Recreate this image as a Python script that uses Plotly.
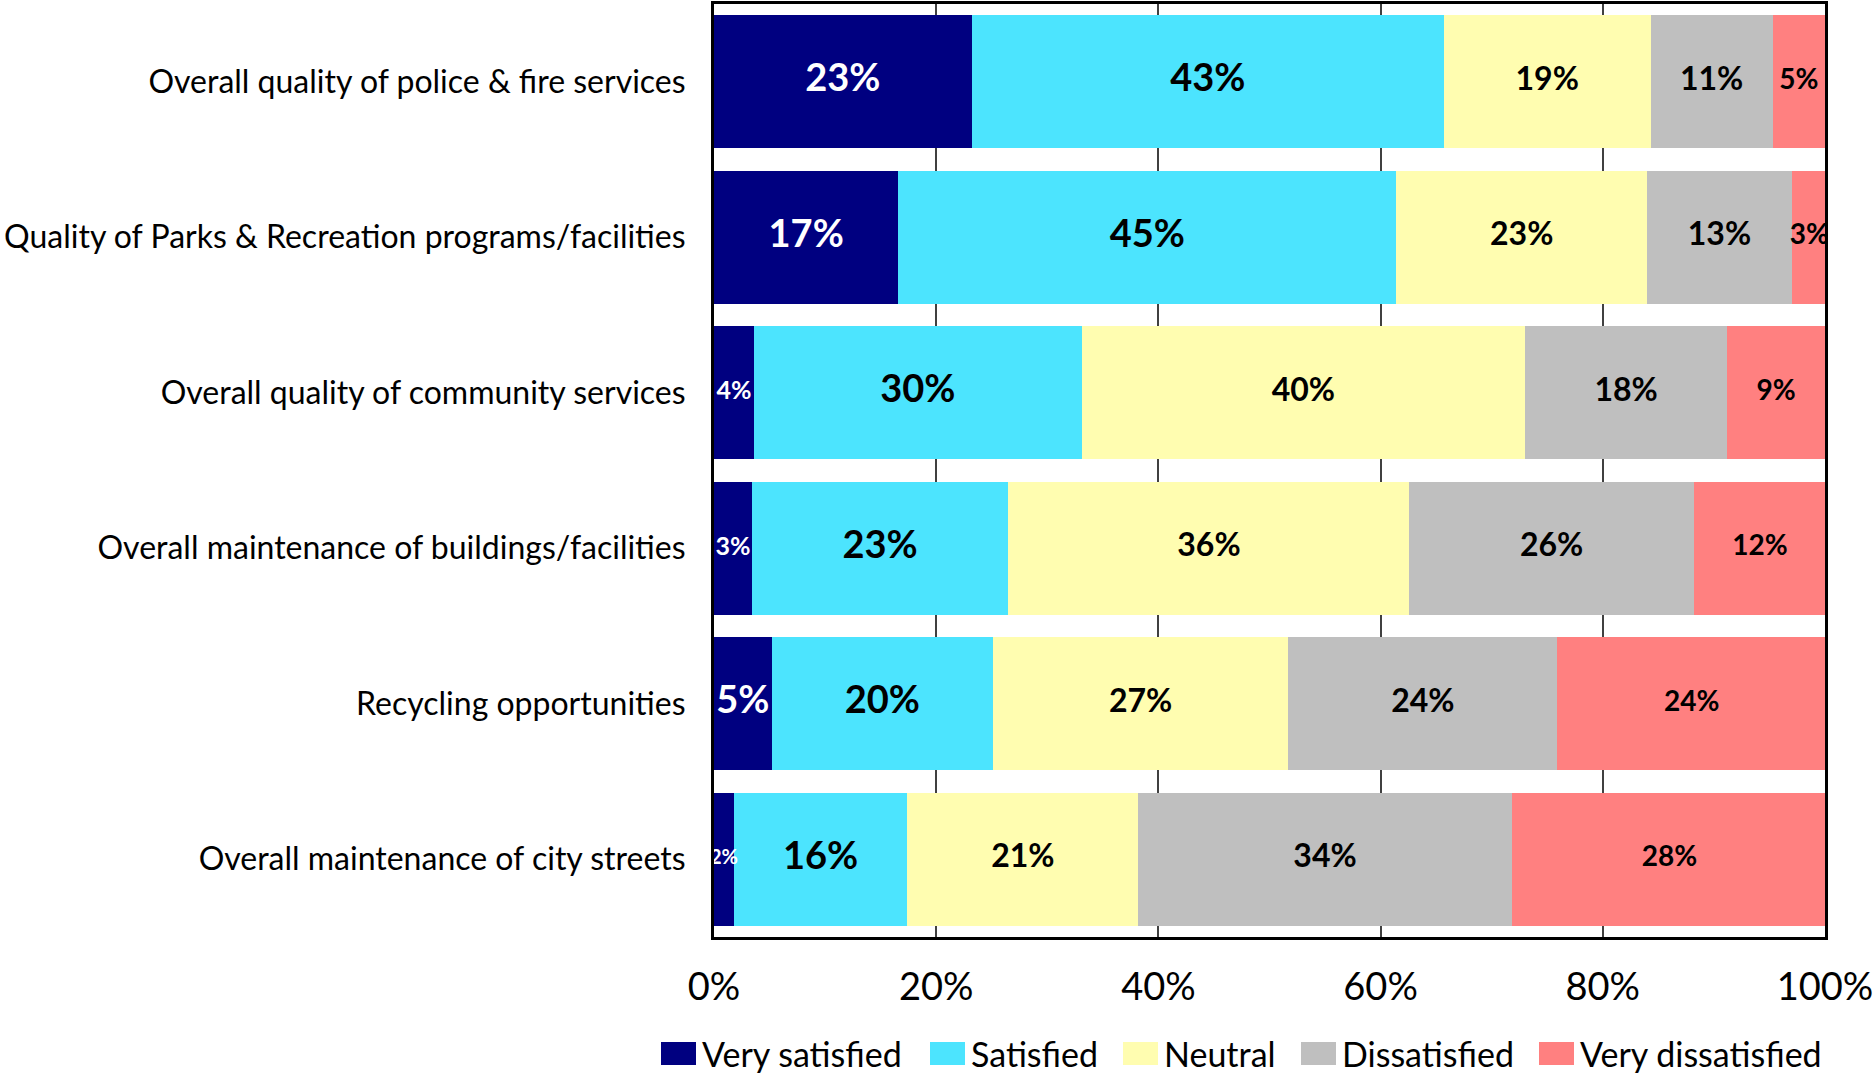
import numpy as np
import plotly.graph_objects as go

# survey rows, top to bottom
categories = [
    "Overall quality of police & fire services",
    "Quality of Parks & Recreation programs/facilities",
    "Overall quality of community services",
    "Overall maintenance of buildings/facilities",
    "Recycling opportunities",
    "Overall maintenance of city streets",
]
series_names = ["Very satisfied", "Satisfied", "Neutral", "Dissatisfied", "Very dissatisfied"]

# percent of respondents
very_satisfied = [23.2, 16.6, 3.6, 3.4, 5.2, 1.8]
satisfied = [42.5, 44.8, 29.5, 23.1, 19.9, 15.6]
neutral = [18.6, 22.6, 39.9, 36.1, 26.6, 20.8]
dissatisfied = [11.0, 13.0, 18.2, 25.6, 24.2, 33.6]
very_dissatisfied = [4.7, 3.2, 8.8, 11.9, 24.2, 28.4]

tick_vals = [0, 20, 40, 60, 80, 100]
tick_labels = ["0%", "20%", "40%", "60%", "80%", "100%"]

colors = ["#000080", "#4CE4FE", "#FFFDB0", "#BFBFBF", "#FF8080"]
label_colors = ["white", "black", "black", "black", "black"]
label_sizes = [
    [38, 38, 25, 25, 38, 20],
    [38] * 6,
    [32] * 6,
    [32] * 6,
    [28] * 6,
]

FONT = "Lato"
W, H = 1875, 1074
L, R, T, B = 714, 50, 4, 137

values = [very_satisfied, satisfied, neutral, dissatisfied, very_dissatisfied]

fig = go.Figure()

for name, vals, col in zip(series_names, values, colors):
    fig.add_trace(go.Bar(
        y=categories, x=vals, name=name, orientation="h",
        marker=dict(color=col, line=dict(width=0)),
        showlegend=False,
    ))

# data labels centred in each segment
cum = np.cumsum(np.array(values), axis=0)
for i, vals in enumerate(values):
    mids = cum[i] - np.array(vals) / 2
    fig.add_trace(go.Scatter(
        x=mids, y=categories, mode="text",
        text=[f"{int(v + 0.5)}%" for v in vals],
        textposition="middle center",
        textfont=dict(family=FONT, size=label_sizes[i], color=label_colors[i], weight="bold"),
        showlegend=False, hoverinfo="skip",
    ))

# legend drawn by hand so the swatches match the original size
plot_w = W - L - R
plot_h = H - T - B


def px_x(px):
    return (px - L) / plot_w


def px_y(py):
    return (H - B - py) / plot_h


swatch_x = [661, 930, 1123, 1301, 1539]
for name, col, sx in zip(series_names, colors, swatch_x):
    fig.add_shape(type="rect", xref="paper", yref="paper",
                  x0=px_x(sx), x1=px_x(sx + 35), y0=px_y(1065), y1=px_y(1042),
                  fillcolor=col, line=dict(width=0))
    fig.add_annotation(xref="paper", yref="paper", x=px_x(sx + 39), y=px_y(1053),
                       text=name, showarrow=False, xanchor="left", yanchor="middle",
                       font=dict(family=FONT, size=34, color="black"))

fig.update_layout(
    width=W, height=H,
    margin=dict(l=L, r=R, t=T, b=B),
    barmode="stack", bargap=0.145,
    plot_bgcolor="white", paper_bgcolor="white",
    font=dict(family=FONT, color="black"),
    showlegend=False,
    xaxis=dict(
        range=[0, 100], tickvals=tick_vals, ticktext=tick_labels,
        tickfont=dict(size=38), ticklabelstandoff=14, automargin=False,
        showgrid=True, gridcolor="#404040", gridwidth=1.5,
        zeroline=False, showline=True, mirror=True, linecolor="black", linewidth=3,
    ),
    yaxis=dict(
        autorange="reversed", tickfont=dict(size=32), ticklabelstandoff=19,
        automargin=False,
        showgrid=False, zeroline=False, showline=True, mirror=True,
        linecolor="black", linewidth=3,
    ),
)

fig.write_html("out.html", config={"displayModeBar": False},
               post_script="document.body.style.margin='0';")
